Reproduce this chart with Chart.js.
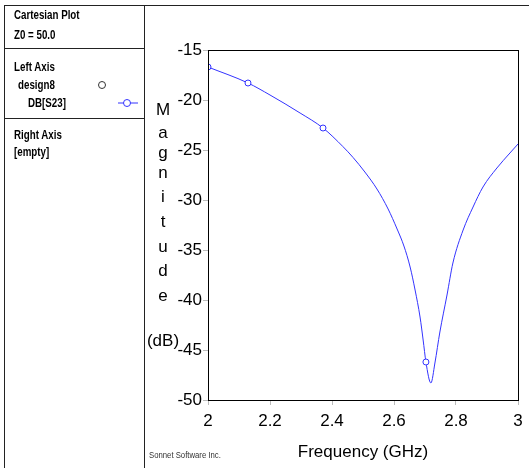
<!DOCTYPE html>
<html>
<head>
<meta charset="utf-8">
<script src="https://cdn.jsdelivr.net/npm/chart.js@4/dist/chart.umd.min.js"></script>
<style>
  body { margin: 0; background: #fff; }
  #wrap { position: relative; width: 529px; height: 468px; overflow: hidden; }
  #chart { position: absolute; left: 0; top: 0; }
  .side { position: absolute; font-family: "Liberation Sans", Arial, sans-serif;
          font-weight: bold; font-size: 13px; color: #000; line-height: 14px; white-space: nowrap;
          transform: scaleX(0.75); transform-origin: left center; }
  .ln { position: absolute; background: #222; }
  .ylet { position: absolute; width: 40px; left: 143px; text-align: center;
          font-family: "Liberation Sans", Arial, sans-serif; font-size: 17px; color: #000; line-height: 18px; }
</style>
</head>
<body>
<div id="wrap">
  <canvas id="chart" width="529" height="468"></canvas>

  <div class="ln" style="left:4px;top:5px;width:525px;height:1px"></div>
  <div class="ln" style="left:4px;top:5px;width:1px;height:463px"></div>
  <div class="ln" style="left:144px;top:5px;width:1px;height:463px"></div>
  <div class="ln" style="left:4px;top:48px;width:141px;height:1px"></div>
  <div class="ln" style="left:4px;top:118px;width:141px;height:1px"></div>

  <div class="side" style="left:14px;top:8px">Cartesian Plot</div>
  <div class="side" style="left:14px;top:28px">Z0 = 50.0</div>
  <div class="side" style="left:14px;top:60px">Left Axis</div>
  <div class="side" style="left:18px;top:78px">design8</div>
  <div class="side" style="left:28px;top:96px">DB[S23]</div>
  <div class="side" style="left:14px;top:128px">Right Axis</div>
  <div class="side" style="left:14px;top:145px">[empty]</div>
  <svg style="position:absolute;left:95px;top:78px" width="50" height="32">
    <circle cx="7" cy="7" r="3.5" fill="#fff" stroke="#333" stroke-width="1"/>
    <line x1="23" y1="25" x2="43" y2="25" stroke="#3333ff" stroke-width="1"/>
    <circle cx="32" cy="25" r="3.5" fill="#fff" stroke="#3333ff" stroke-width="1"/>
  </svg>

  <div class="ylet" style="top:101px">M</div>
  <div class="ylet" style="top:124px">a</div>
  <div class="ylet" style="top:144px">g</div>
  <div class="ylet" style="top:164px">n</div>
  <div class="ylet" style="top:188px">i</div>
  <div class="ylet" style="top:213px">t</div>
  <div class="ylet" style="top:238px">u</div>
  <div class="ylet" style="top:262px">d</div>
  <div class="ylet" style="top:287px">e</div>
  <div class="ylet" style="top:332px">(dB)</div>

  <div style="position:absolute;left:149px;top:450px;font-family:'Liberation Sans',Arial,sans-serif;font-size:9px;color:#333;transform:scaleX(0.86);transform-origin:left center;white-space:nowrap">Sonnet Software Inc.</div>
</div>
<script>
// S23 magnitude
const freqGHz = [2.000, 2.129, 2.200, 2.297, 2.371, 2.435, 2.468, 2.506, 2.545, 2.581, 2.610, 2.632,
                 2.652, 2.668, 2.684, 2.694, 2.703, 2.719, 2.732, 2.748, 2.771, 2.790, 2.823, 2.855,
                 2.887, 2.932, 2.974, 3.000];
const s23dB = [-16.7, -18.3, -19.5, -21.3, -22.8, -24.65, -25.75, -27.2, -28.9, -30.9, -32.9, -34.6,
               -36.7, -39.0, -41.7, -44.0, -46.2, -48.3, -46.3, -43.2, -39.5, -36.3, -33.0, -30.7,
               -28.7, -26.8, -25.3, -24.4];
const markerFreqs = [2.000, 2.129, 2.371, 2.703];

const xTicks = [2, 2.2, 2.4, 2.6, 2.8, 3];
const yTicks = [-15, -20, -25, -30, -35, -40, -45, -50];

const points = freqGHz.map((f, i) => ({ x: f, y: s23dB[i] }));
const radii = freqGHz.map(f => markerFreqs.includes(f) ? 3 : 0);

const frame = {
  id: 'frame',
  afterDatasetsDraw(chart) {
    const a = chart.chartArea, c = chart.ctx;
    c.save();
    c.strokeStyle = '#000';
    c.lineWidth = 1;
    c.strokeRect(Math.round(a.left) + 0.5, Math.round(a.top) + 0.5,
                 Math.round(a.right - a.left), Math.round(a.bottom - a.top));
    c.restore();
  }
};

new Chart(document.getElementById('chart'), {
  type: 'line',
  data: {
    datasets: [{
      label: 'DB[S23]',
      data: points,
      borderColor: '#3333ff',
      borderWidth: 1,
      cubicInterpolationMode: 'monotone',
      pointRadius: radii,
      pointHoverRadius: radii,
      pointBackgroundColor: '#fff',
      pointBorderColor: '#3333ff',
      pointBorderWidth: 1
    }]
  },
  options: {
    responsive: false,
    animation: false,
    events: [],
    layout: { padding: { left: 145, right: 11, top: 50, bottom: 0 } },
    plugins: { legend: { display: false }, tooltip: { enabled: false } },
    scales: {
      x: {
        type: 'linear',
        min: 2, max: 3,
        afterFit: s => { s.height = 68; },
        afterBuildTicks: s => { s.ticks = xTicks.map(v => ({ value: v })); },
        grid: { drawOnChartArea: false, tickLength: 5, color: '#bbb' },
        border: { display: false },
        ticks: {
          color: '#000', padding: 6, font: { family: 'Liberation Sans', size: 17 },
          callback: v => String(Math.round(v * 10) / 10)
        },
        title: {
          display: true, text: 'Frequency (GHz)', color: '#000',
          font: { family: 'Liberation Sans', size: 17 }, padding: { top: 0, bottom: 5 }
        }
      },
      y: {
        min: -50, max: -15,
        afterFit: s => { s.width = 63; },
        afterBuildTicks: s => { s.ticks = yTicks.map(v => ({ value: v })); },
        grid: { drawOnChartArea: false, tickLength: 5, color: '#bbb' },
        border: { display: false },
        ticks: { color: '#000', padding: 1, font: { family: 'Liberation Sans', size: 17 } }
      }
    }
  },
  plugins: [frame]
});
</script>
</body>
</html>
